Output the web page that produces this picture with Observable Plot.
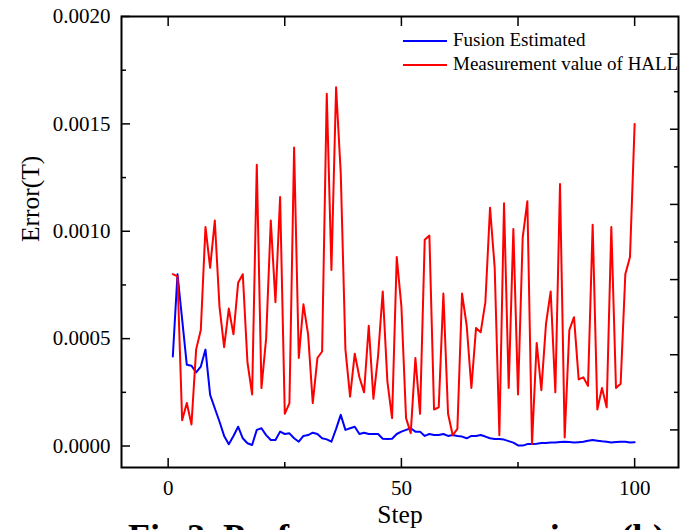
<!DOCTYPE html>
<html><head><meta charset="utf-8">
<script src="https://cdn.jsdelivr.net/npm/d3@7"></script>
<script src="https://cdn.jsdelivr.net/npm/@observablehq/plot@0.6"></script>
<style>
body{margin:0;background:#fff;}
#wrap{position:relative;width:682px;height:530px;overflow:hidden;font-family:"Liberation Serif","Times New Roman",serif;color:#000;}
#wrap svg{position:absolute;left:0;top:0;}
#wrap svg, #wrap svg text{font-family:"Liberation Serif","Times New Roman",serif !important;}
.leg{position:absolute;font-size:19px;line-height:20px;white-space:nowrap;}
.sw{position:absolute;height:2px;}
#cap{position:absolute;left:128px;top:519px;font-size:36px;line-height:36px;font-weight:bold;white-space:nowrap;}
</style></head><body><div id="wrap"></div>
<script>
const steps = [1,2,3,4,5,6,7,8,9,10,11,12,13,14,15,16,17,18,19,20,21,22,23,24,25,26,27,28,29,30,31,32,33,34,35,36,37,38,39,40,41,42,43,44,45,46,47,48,49,50,51,52,53,54,55,56,57,58,59,60,61,62,63,64,65,66,67,68,69,70,71,72,73,74,75,76,77,78,79,80,81,82,83,84,85,86,87,88,89,90,91,92,93,94,95,96,97,98,99,100];
const fusion = [0.000417,0.00080,0.00059,0.000378,0.000374,0.000343,0.00037,0.000449,0.000238,0.000176,
0.000114,0.000047,0.000008,0.000047,0.00009,0.000036,0.000013,0.000005,0.000075,0.000083,
0.000051,0.000028,0.000028,0.000067,0.000056,0.000059,0.000036,0.00002,0.000047,0.000051,
0.000062,0.000056,0.000036,0.000031,0.00002,0.00008,0.000145,0.000075,0.000083,0.00009,
0.000056,0.000062,0.000056,0.000056,0.000056,0.000034,0.000033,0.000034,0.000056,0.000067,
0.000075,0.000083,0.000067,0.000067,0.000047,0.000056,0.000051,0.000051,0.000056,0.000047,
0.000051,0.000047,0.000044,0.000036,0.000047,0.000047,0.000051,0.000044,0.000036,0.000033,
0.000033,0.00003,0.000023,0.000016,0.000003,0.000002,0.000009,0.000009,0.000011,0.000014,
0.000014,0.000016,0.000016,0.000019,0.00002,0.000019,0.000016,0.000018,0.00002,0.000025,
0.000028,0.000025,0.000022,0.00002,0.000016,0.000019,0.00002,0.00002,0.000016,0.000018];
const hall = [0.00080,0.00079,0.00012,0.00020,0.00010,0.00045,0.00054,0.00102,0.00083,0.00105,
0.00065,0.00046,0.00064,0.00052,0.00076,0.00080,0.00039,0.00024,0.00131,0.00027,
0.00050,0.00105,0.00067,0.00116,0.00015,0.00020,0.00139,0.00041,0.00066,0.00052,
0.00020,0.00041,0.00044,0.00164,0.00082,0.00167,0.00127,0.00045,0.00023,0.00043,
0.00032,0.00025,0.00056,0.00022,0.00042,0.00072,0.00030,0.00013,0.00088,0.00065,
0.00013,0.00006,0.00041,0.00015,0.00096,0.00098,0.00017,0.00018,0.00071,0.00015,
0.00005,0.00008,0.00071,0.00056,0.00027,0.00055,0.00053,0.00067,0.00111,0.00083,
0.00005,0.00113,0.00027,0.00101,0.00024,0.00097,0.00114,0.00001,0.00048,0.00026,
0.00057,0.00072,0.00025,0.00122,0.00004,0.00054,0.00060,0.00031,0.00032,0.00028,
0.00103,0.00017,0.00027,0.00018,0.00102,0.00027,0.00029,0.00080,0.00088,0.00150];
const seriesNames = ["Fusion Estimated","Measurement value of HALL"];
const seriesColors = ["#0000ff","#ff0000"];
const xMajor = [0,50,100];
const xMinor = [25,75];
const yMajor = [0,0.0005,0.001,0.0015,0.002];
const yMinor = [0.00025,0.00075,0.00125,0.00175];
const rightMajor = [0.000075,0.000425,0.000775,0.001125,0.001475,0.001825];
const rightMinor = [0.00025,0.0006,0.00095,0.0013,0.00165];
const xTitle = "Step";
const yTitle = "Error(T)";
const caption = "Fig.2. Performance comparison (b)";

const rows = [];
seriesNames.forEach((name, i) => {
  const vals = i === 0 ? fusion : hall;
  steps.forEach((s, j) => rows.push({step: s, value: vals[j], series: name}));
});

const serif = "'Liberation Serif','Times New Roman',serif";
const chart = Plot.plot({
  width: 682, height: 530,
  marginLeft: 121, marginRight: 4, marginTop: 16, marginBottom: 63,
  x: {domain: [-10, 109.4]},
  y: {domain: [-0.0001, 0.002]},
  color: {domain: seriesNames, range: seriesColors},
  style: {fontFamily: serif, fontSize: "21px", color: "#000", background: "transparent", overflow: "visible"},
  marks: [
    Plot.line(rows, {x: "step", y: "value", stroke: "series", z: "series", strokeWidth: 2}),
    Plot.frame({stroke: "#000", strokeWidth: 2}),
    Plot.axisY(yMajor, {anchor: "left", tickSize: 0, tickPadding: 11, tickFormat: d3.format(".4f"), label: null, fontSize: 21}),
    Plot.axisY(yMajor, {anchor: "left", tickSize: -9, fill: "none", strokeWidth: 1.5}),
    Plot.axisY(yMinor, {anchor: "left", tickSize: -5, fill: "none", strokeWidth: 1.5}),
    Plot.axisY(rightMajor, {anchor: "right", tickSize: -9, fill: "none", strokeWidth: 1.5}),
    Plot.axisY(rightMinor, {anchor: "right", tickSize: -5, fill: "none", strokeWidth: 1.5}),
    Plot.axisX(xMajor, {anchor: "bottom", tickSize: 0, tickPadding: 13, label: null, fontSize: 21}),
    Plot.axisX(xMajor, {anchor: "bottom", tickSize: -9, fill: "none", strokeWidth: 1.5}),
    Plot.axisX(xMinor, {anchor: "bottom", tickSize: -5, fill: "none", strokeWidth: 1.5}),
    Plot.axisX(xMajor.concat(xMinor), {anchor: "top", tickSize: -9, fill: "none", strokeWidth: 1.5}),
    Plot.text([yTitle], {frameAnchor: "left", dx: -91, rotate: -90, fontSize: 25.5}),
    Plot.text([xTitle], {frameAnchor: "bottom", dy: 55, lineAnchor: "bottom", fontSize: 25.5})
  ]
});

const wrap = document.getElementById("wrap");
wrap.appendChild(chart);

// legend
const legTops = [30, 54];
seriesNames.forEach((name, i) => {
  const sw = document.createElement("div");
  sw.className = "sw";
  sw.style.left = "403px"; sw.style.width = "44px";
  sw.style.top = (legTops[i] + 10) + "px";
  sw.style.background = seriesColors[i];
  wrap.appendChild(sw);
  const t = document.createElement("div");
  t.className = "leg";
  t.style.left = "453px"; t.style.top = legTops[i] + "px";
  t.textContent = name;
  wrap.appendChild(t);
});
const cap = document.createElement("div");
cap.id = "cap";
cap.textContent = caption;
wrap.appendChild(cap);
</script>
</body></html>
